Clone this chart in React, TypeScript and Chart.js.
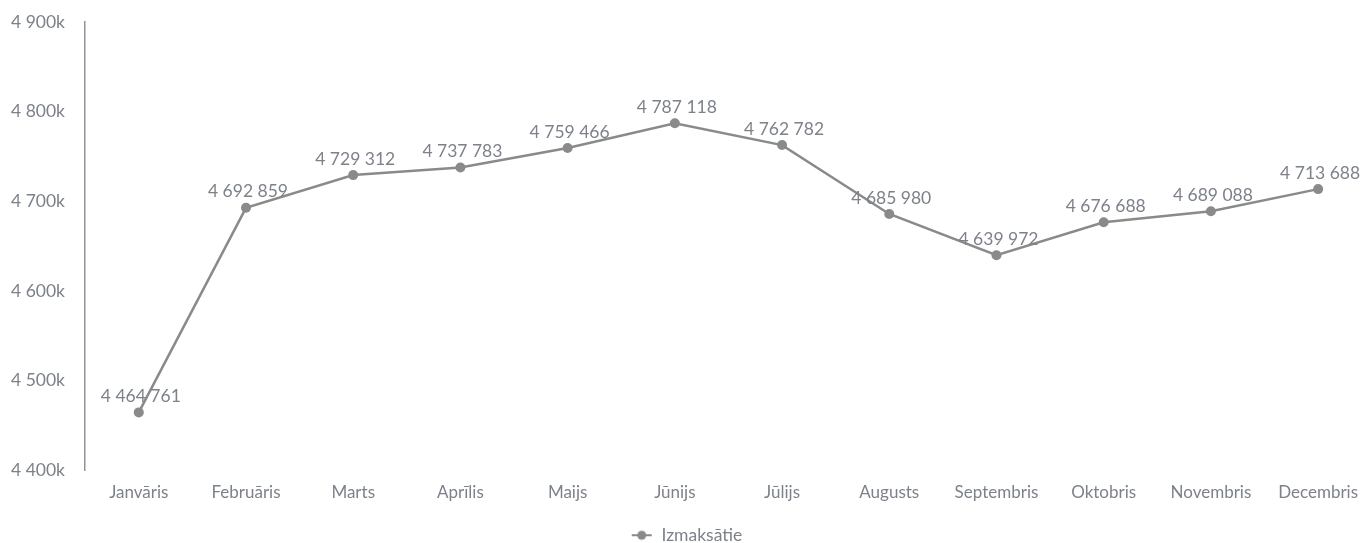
import React, { useEffect, useRef } from "react";
import { Chart, registerables } from "chart.js";

Chart.register(...registerables);

const months = [
  "Janvāris", "Februāris", "Marts", "Aprīlis", "Maijs", "Jūnijs",
  "Jūlijs", "Augusts", "Septembris", "Oktobris", "Novembris", "Decembris",
];
const izmaksatie = [
  4464761, 4692859, 4729312, 4737783, 4759466, 4787118,
  4762782, 4685980, 4639972, 4676688, 4689088, 4713688,
];
const seriesName = "Izmaksātie";
const yTicks = [4400000, 4500000, 4600000, 4700000, 4800000, 4900000];

const LINE = "#8a8a8a";
const TEXT = "#7d828a";
const AXIS = "#8d939c";
const FONT = "Lato";
const FS = 17.5;

function fmtSpace(n: number): string {
  return String(Math.round(n)).replace(/\B(?=(\d{3})+(?!\d))/g, " ");
}

function makeLegendIcon(): HTMLCanvasElement {
  const c = document.createElement("canvas");
  c.width = 22;
  c.height = 12;
  const ctx = c.getContext("2d")!;
  ctx.strokeStyle = LINE;
  ctx.lineWidth = 2;
  ctx.beginPath();
  ctx.moveTo(1, 6);
  ctx.lineTo(21, 6);
  ctx.stroke();
  ctx.fillStyle = LINE;
  ctx.beginPath();
  ctx.arc(11, 6, 4.5, 0, Math.PI * 2);
  ctx.fill();
  return c;
}

const dataLabelPlugin = {
  id: "dataLabels",
  afterDatasetsDraw(chart: any) {
    const ctx = chart.ctx;
    const meta = chart.getDatasetMeta(0);
    const ds = chart.data.datasets[0];
    ctx.save();
    ctx.font = `${FS}px ${FONT}`;
    ctx.fillStyle = TEXT;
    ctx.textAlign = "center";
    ctx.textBaseline = "middle";
    meta.data.forEach((pt: any, i: number) => {
      const v = ds.data[i].y;
      ctx.fillText(fmtSpace(v), pt.x + 2, pt.y - 16);
    });
    ctx.restore();
  },
};

export default function App() {
  const ref = useRef<HTMLCanvasElement | null>(null);
  useEffect(() => {
    if (!ref.current) return;
    const icon = makeLegendIcon();
    const chart = new Chart(ref.current, {
      type: "line",
      data: {
        datasets: [
          {
            label: seriesName,
            data: izmaksatie.map((v, i) => ({ x: i, y: v })),
            borderColor: LINE,
            backgroundColor: LINE,
            borderWidth: 2.5,
            pointRadius: 5,
            pointBackgroundColor: LINE,
            pointBorderWidth: 0,
            tension: 0,
          },
        ],
      },
      options: {
        animation: false,
        responsive: true,
        maintainAspectRatio: false,
        layout: { padding: { top: 22, left: 10, right: 0, bottom: -11 } },
        scales: {
          x: {
            type: "linear",
            min: -0.5016,
            max: 11.372,
            grid: { display: false, drawTicks: false },
            border: { display: false },
            afterBuildTicks: (scale: any) => {
              scale.ticks = months.map((_, i) => ({ value: i }));
            },
            afterFit: (scale: any) => {
              scale.height = 52;
              scale.paddingLeft = 0;
              scale.paddingRight = 0;
            },
            ticks: {
              padding: 12,
              color: TEXT,
              font: { family: FONT, size: 17 },
              maxRotation: 0,
              autoSkip: false,
              callback: (v: any) => months[Math.round(Number(v))] ?? "",
            },
          },
          y: {
            min: 4400000,
            max: 4900000,
            afterBuildTicks: (scale: any) => {
              scale.ticks = yTicks.map((v) => ({ value: v }));
            },
            afterFit: (scale: any) => {
              scale.width = 75;
              scale.paddingTop = 0;
              scale.paddingBottom = 0;
            },
            grid: { drawOnChartArea: false, drawTicks: false },
            border: { display: true, color: AXIS, width: 1.5 },
            ticks: {
              padding: 20,
              color: TEXT,
              font: { family: FONT, size: FS },
              callback: (v: any) => fmtSpace(Number(v) / 1000) + "k",
            },
          },
        },
        plugins: {
          legend: {
            position: "bottom",
            labels: {
              usePointStyle: true,
              pointStyle: icon as any,
              pointStyleWidth: 22,
              boxHeight: 12,
              padding: 4,
              color: TEXT,
              font: { family: FONT, size: FS },
              generateLabels: () => [
                {
                  text: seriesName,
                  pointStyle: icon as any,
                  fillStyle: LINE,
                  strokeStyle: LINE,
                  lineWidth: 0,
                  hidden: false,
                  datasetIndex: 0,
                  fontColor: TEXT,
                } as any,
              ],
            },
          },
          tooltip: { enabled: false },
        },
      },
      plugins: [dataLabelPlugin],
    } as any);
    return () => chart.destroy();
  }, []);
  return (
    <div style={{ position: "fixed", left: 0, top: 0, width: 1363, height: 543, background: "#fff" }}>
      <canvas ref={ref} />
    </div>
  );
}
